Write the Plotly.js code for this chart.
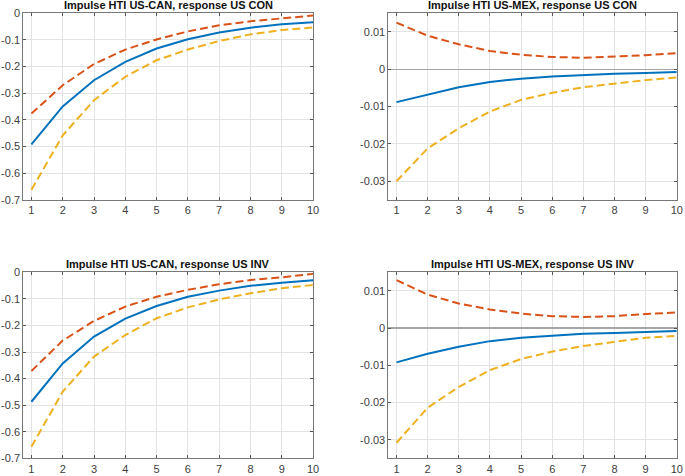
<!DOCTYPE html>
<html>
<head>
<meta charset="utf-8">
<script src="https://cdn.plot.ly/plotly-3.0.1.min.js"></script>
<style>body{margin:0;} #plot{width:685px;height:476px;}</style>
</head>
<body>
<div id="plot"></div>
<script>
var horizon = [1, 2, 3, 4, 5, 6, 7, 8, 9, 10];

// Impulse HTI US-CAN, response US CON
var canConMid = [-0.492, -0.349, -0.251, -0.182, -0.132, -0.097, -0.072, -0.054, -0.041, -0.033];
var canConUp  = [-0.376, -0.27, -0.19, -0.136, -0.098, -0.068, -0.045, -0.03, -0.019, -0.008];
var canConLo  = [-0.662, -0.458, -0.326, -0.238, -0.176, -0.136, -0.104, -0.079, -0.063, -0.053];

// Impulse HTI US-MEX, response US CON
var mexConMid = [-0.0088, -0.0069, -0.0048, -0.0034, -0.0025, -0.0019, -0.0015, -0.0012, -0.001, -0.0007];
var mexConUp  = [0.0125, 0.009, 0.0067, 0.0049, 0.0039, 0.0033, 0.0031, 0.0034, 0.0038, 0.0043];
var mexConLo  = [-0.030, -0.0212, -0.0158, -0.0113, -0.0082, -0.0063, -0.0048, -0.0038, -0.0029, -0.0022];

// Impulse HTI US-CAN, response US INV
var canInvMid = [-0.487, -0.343, -0.242, -0.174, -0.127, -0.092, -0.069, -0.051, -0.039, -0.030];
var canInvUp  = [-0.371, -0.257, -0.183, -0.129, -0.092, -0.066, -0.045, -0.029, -0.019, -0.006];
var canInvLo  = [-0.656, -0.449, -0.317, -0.236, -0.173, -0.132, -0.102, -0.079, -0.06, -0.048];

// Impulse HTI US-MEX, response US INV
var mexInvMid = [-0.0092, -0.0069, -0.005, -0.0035, -0.0026, -0.002, -0.0015, -0.0013, -0.0011, -0.0008];
var mexInvUp  = [0.0129, 0.009, 0.0066, 0.005, 0.0039, 0.0032, 0.003, 0.0032, 0.0038, 0.0042];
var mexInvLo  = [-0.0308, -0.0214, -0.0158, -0.0113, -0.0083, -0.0063, -0.0048, -0.0036, -0.0026, -0.0021];

var titles = [
  "Impulse HTI US-CAN, response US CON",
  "Impulse HTI US-MEX, response US CON",
  "Impulse HTI US-CAN, response US INV",
  "Impulse HTI US-MEX, response US INV"
];

var blue = "#0072BD", red = "#D95319", yellow = "#EDB120";

function panel(mid, up, lo, n) {
  var xa = n == 1 ? "x" : "x" + n, ya = n == 1 ? "y" : "y" + n;
  return [
    {x: horizon, y: mid, xaxis: xa, yaxis: ya, mode: "lines", line: {color: blue, width: 2}},
    {x: horizon, y: up, xaxis: xa, yaxis: ya, mode: "lines", line: {color: red, width: 2, dash: "8px,4px"}},
    {x: horizon, y: lo, xaxis: xa, yaxis: ya, mode: "lines", line: {color: yellow, width: 2, dash: "8px,4px"}}
  ];
}

var data = [].concat(
  panel(canConMid, canConUp, canConLo, 1),
  panel(mexConMid, mexConUp, mexConLo, 2),
  panel(canInvMid, canInvUp, canInvLo, 3),
  panel(mexInvMid, mexInvUp, mexInvLo, 4)
);

var tickFont = {family: "Liberation Sans, Arial, sans-serif", size: 11, color: "#404040"};

function xax(dom, anchor) {
  return {
    domain: dom, anchor: anchor, range: [0.74, 10], tickvals: horizon,
    showgrid: true, gridcolor: "#e3e3e3", zeroline: false,
    showline: true, linecolor: "#777", linewidth: 1, mirror: "ticks",
    ticks: "inside", ticklen: 3, tickcolor: "#555", tickfont: tickFont
  };
}
function yax(dom, anchor, range, tv, tt, zero) {
  return {
    domain: dom, anchor: anchor, range: range, tickvals: tv, ticktext: tt,
    showgrid: true, gridcolor: "#e3e3e3",
    zeroline: zero, zerolinecolor: "#a6a6a6", zerolinewidth: 1.5,
    showline: true, linecolor: "#777", linewidth: 1, mirror: "ticks",
    ticks: "inside", ticklen: 3, tickcolor: "#555", tickfont: tickFont
  };
}

var canTicks = [0, -0.1, -0.2, -0.3, -0.4, -0.5, -0.6, -0.7];
var canText = ["0", "-0.1", "-0.2", "-0.3", "-0.4", "-0.5", "-0.6", "-0.7"];
var mexTicks = [0.01, 0, -0.01, -0.02, -0.03];
var mexText = ["0.01", "0", "-0.01", "-0.02", "-0.03"];

var xL = [0.034, 0.457], xR = [0.567, 0.988];
var yT = [0.58, 0.972], yB = [0.037, 0.428];

var titleFont = {family: "Liberation Sans, Arial, sans-serif", size: 11, color: "#111"};
function title(txt, dom, y) {
  return {text: "<b>" + txt + "</b>", xref: "paper", yref: "paper",
    x: (dom[0] + dom[1]) / 2, y: y, xanchor: "center", yanchor: "middle",
    showarrow: false, font: titleFont};
}

var layout = {
  width: 685,
  height: 476,
  margin: {l: 0, r: 0, t: 0, b: 0},
  paper_bgcolor: "#fff",
  plot_bgcolor: "#fff",
  showlegend: false,
  xaxis: xax(xL, "y"),
  yaxis: yax(yT, "x", [-0.7, 0], canTicks, canText, false),
  xaxis2: xax(xR, "y2"),
  yaxis2: yax(yT, "x2", [-0.035, 0.015], mexTicks, mexText, true),
  xaxis3: xax(xL, "y3"),
  yaxis3: yax(yB, "x3", [-0.7, 0], canTicks, canText, false),
  xaxis4: xax(xR, "y4"),
  yaxis4: yax(yB, "x4", [-0.035, 0.015], mexTicks, mexText, true),
  annotations: [
    title(titles[0], xL, 0.9885),
    title(titles[1], xR, 0.9885),
    title(titles[2], xL, 0.4454),
    title(titles[3], xR, 0.4454)
  ]
};

Plotly.newPlot("plot", data, layout, {staticPlot: true});
</script>
</body>
</html>
